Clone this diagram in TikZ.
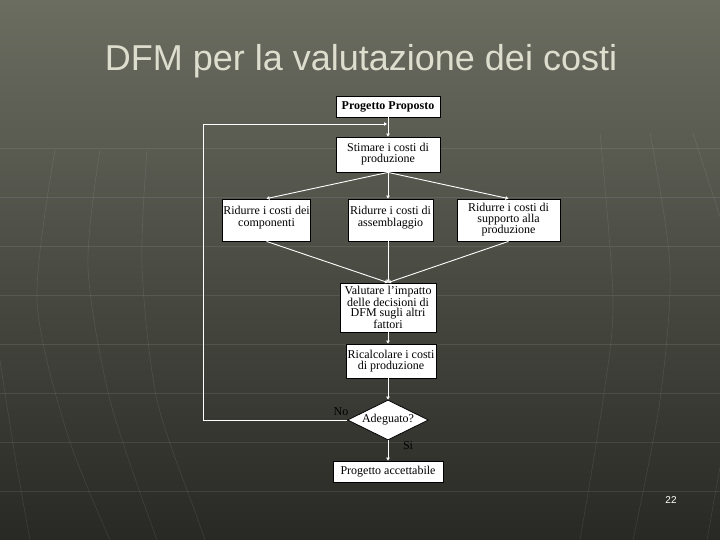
\documentclass[tikz,border=0pt]{standalone}
\usepackage{fontspec}
\setmainfont{Liberation Serif}
\newfontfamily\titlefont{Liberation Sans}
\usetikzlibrary{arrows.meta,shapes.geometric,positioning}
\definecolor{bgTop}{RGB}{108,109,97}
\definecolor{bgBot}{RGB}{40,41,36}
\definecolor{titleGray}{RGB}{222,222,206}

\tikzset{
  boxnode/.style={draw=black, fill=white, align=center, inner sep=1pt,
    font=\fontsize{12}{12}\selectfont},
  flow/.style={white, line width=0.9pt, -{Triangle[open, length=3pt, width=3.5pt]}},
  gridline/.style={white, opacity=0.09, line width=0.6pt},
  labnode/.style={font=\fontsize{12}{11}\selectfont, inner sep=0pt}
}

\begin{document}
\begin{tikzpicture}[x=1pt, y=-1pt, thick]
    \shade[top color=bgTop, bottom color=bgBot] (0,0) rectangle (720,540);
    \useasboundingbox (0,0) rectangle (720,540);
    % sfondo
    \foreach \yy in {148,197,...,491} {
        \draw[gridline] (0,\yy) -- (720,\yy);
    }
    \draw[gridline] plot[smooth] coordinates {(0,360) (14,450) (30,540)};
    \draw[gridline] plot[smooth] coordinates {(55,150) (37,300) (67,433) (110,540)};
    \draw[gridline] plot[smooth] coordinates {(100,150) (88,267) (110,400) (157,540)};
    \draw[gridline] plot[smooth] coordinates {(147,150) (142,267) (157,400) (197,517) (205,540)};
    \draw[gridline] plot[smooth] coordinates {(600,133) (613,300) (603,400) (580,540)};
    \draw[gridline] plot[smooth] coordinates {(650,133) (670,267) (660,400) (633,540)};
    \draw[gridline] plot[smooth] coordinates {(693,133) (720,217)};
    \draw[gridline] plot[smooth] coordinates {(720,467) (707,540)};

    \node[text=titleGray, font=\titlefont\fontsize{36}{36}\selectfont] (titolo) at (361,61) {DFM per la valutazione dei costi};

    \node[boxnode, font=\bfseries\fontsize{12}{11}\selectfont, minimum width=104pt, minimum height=21pt] (prop) at (388,106.5) {Progetto Proposto};
    \node[boxnode, font=\fontsize{12}{11}\selectfont, minimum width=104pt, minimum height=35pt] (stim) at (388,154.5) {Stimare i costi di\\ produzione};
    \node[boxnode, minimum width=88pt, minimum height=42pt] (comp) at (266.5,220) {Ridurre i costi dei\\ componenti\\[-5pt]};
    \node[boxnode, minimum width=85pt, minimum height=42pt] (ass) at (390.5,220) {Ridurre i costi di\\ assemblaggio\\[-5pt]};
    \node[boxnode, font=\fontsize{12}{11}\selectfont, minimum width=103pt, minimum height=42pt] (supp) at (508.5,220) {Ridurre i costi di\\ supporto alla\\ produzione};
    \node[boxnode, font=\fontsize{12}{10.5}\selectfont, minimum width=96pt, minimum height=49pt] (val) at (388,307.5) {Valutare l'impatto\\ delle decisioni di\\ DFM sugli altri\\ fattori};
    \node[boxnode, font=\fontsize{12}{11}\selectfont, minimum width=90pt, minimum height=34pt] (ric) at (391,361) {Ricalcolare i costi\\ di produzione};
    \node[draw=black, fill=white, diamond, aspect=2, inner sep=0pt, minimum width=81pt, minimum height=40pt, labnode] (dia) at (388,420) {Adeguato?};
    \node[boxnode, minimum width=110pt, minimum height=21pt] (acc) at (388,471.5) {Progetto accettabile};

    \node[labnode] (no) at (341,412) {No};
    \node[labnode] (si) at (408,446) {Si};
    \node[white, font=\titlefont\fontsize{10}{10}\selectfont] (pagina) at (671,500) {22};

    \coordinate (loopL) at (203,124);
    \coordinate (join) at (387,124);

    \draw[flow] (prop.south) -- (stim.north);
    \draw[flow] (stim.south) -- (comp.north);
    \draw[flow] (stim.south) -- (stim.south |- ass.north);
    \draw[flow] (stim.south) -- (supp.north);
    \draw[flow] (comp.south) -- (val.north);
    \draw[flow] (ass.south -| val.north) -- (val.north);
    \draw[flow] (supp.south) -- (val.north);
    \draw[flow] (val.south) -- (val.south |- ric.north);
    \draw[flow] (dia.north |- ric.south) -- (dia.north);
    \draw[flow] (dia.south) -- (acc.north);
    \draw[flow] (dia.west) -| (loopL) -- (join);
\end{tikzpicture}
\end{document}
